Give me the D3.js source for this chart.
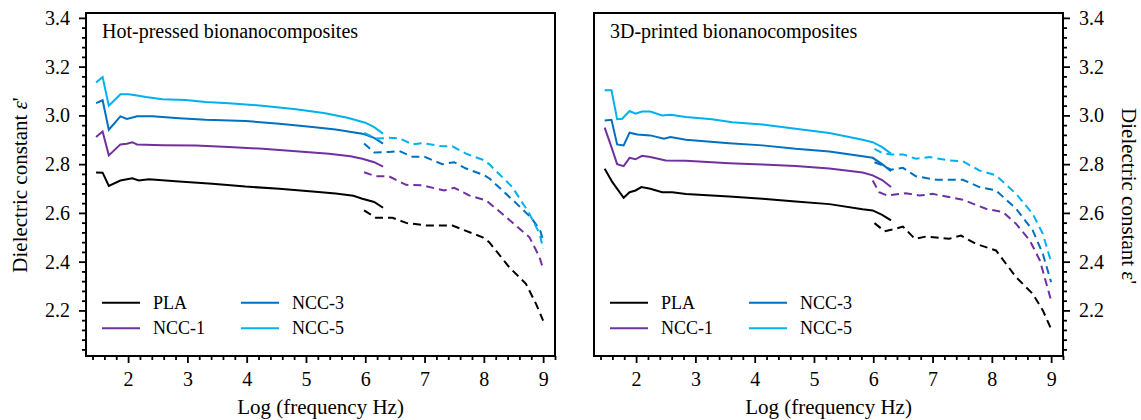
<!DOCTYPE html>
<html>
<head>
<meta charset="utf-8">
<script src="https://cdn.jsdelivr.net/npm/d3@7"></script>
<style>
  body { margin: 0; background: #fff; }
  svg { display: block; font-family: "Liberation Serif", "Times New Roman", serif; }
  svg text { font-family: "Liberation Serif", "Times New Roman", serif; }
</style>
</head>
<body>
<div id="chart"></div>
<script>
// series names + colours
const seriesNames = ['PLA', 'NCC-1', 'NCC-3', 'NCC-5'];
const seriesColors = ['#000000', '#7030a0', '#0070c0', '#00b0f0'];

const xTicks = [2, 3, 4, 5, 6, 7, 8, 9];
const yTicks = [2.2, 2.4, 2.6, 2.8, 3.0, 3.2, 3.4];

// hot-pressed, [log f, eps']
const hotPlaSolid = [[1.46,2.766],[1.57,2.765],[1.675,2.711],[1.87,2.733],[2.07,2.742],[2.18,2.733],[2.35,2.738],[2.86,2.729],[3.42,2.72],[3.98,2.708],[4.55,2.699],[5.11,2.688],[5.5,2.68],[5.8,2.67],[5.95,2.658],[6.15,2.645],[6.3,2.621]];
const hotPlaDashed = [[5.98,2.61],[6.18,2.58],[6.46,2.58],[6.69,2.559],[7.03,2.548],[7.47,2.548],[7.98,2.5],[8.09,2.48],[8.43,2.377],[8.71,2.309],[8.88,2.227],[9.0,2.158]];
const hotNcc1Solid = [[1.46,2.911],[1.57,2.934],[1.675,2.836],[1.87,2.881],[1.98,2.884],[2.07,2.89],[2.15,2.881],[2.58,2.878],[3.14,2.876],[3.7,2.87],[4.27,2.863],[4.83,2.853],[5.39,2.843],[5.75,2.832],[5.95,2.822],[6.15,2.808],[6.3,2.79]];
const hotNcc1Dashed = [[5.98,2.767],[6.18,2.75],[6.4,2.75],[6.69,2.715],[6.96,2.713],[7.33,2.692],[7.5,2.703],[7.76,2.671],[8.04,2.651],[8.38,2.582],[8.77,2.5],[8.94,2.418],[9.0,2.37]];
const hotNcc3Solid = [[1.46,3.05],[1.57,3.062],[1.675,2.941],[1.87,2.996],[1.98,2.985],[2.15,2.996],[2.41,2.996],[2.86,2.988],[3.31,2.982],[3.98,2.977],[4.55,2.966],[5.11,2.952],[5.5,2.942],[5.95,2.925],[6.15,2.908],[6.3,2.884]];
const hotNcc3Dashed = [[5.98,2.885],[6.15,2.848],[6.4,2.85],[6.57,2.854],[6.8,2.83],[7.0,2.83],[7.3,2.8],[7.5,2.808],[7.7,2.782],[8.0,2.755],[8.1,2.74],[8.5,2.65],[8.8,2.58],[8.95,2.528],[9.0,2.487]];
const hotNcc5Solid = [[1.46,3.135],[1.57,3.157],[1.675,3.04],[1.87,3.087],[2.01,3.087],[2.15,3.082],[2.3,3.075],[2.58,3.066],[2.97,3.063],[3.31,3.055],[3.7,3.05],[4.26,3.04],[4.83,3.025],[5.3,3.01],[5.7,2.99],[6.0,2.97],[6.15,2.952],[6.3,2.925]];
const hotNcc5Dashed = [[5.98,2.928],[6.2,2.905],[6.4,2.908],[6.57,2.906],[6.8,2.881],[6.96,2.886],[7.3,2.873],[7.47,2.873],[7.7,2.843],[7.98,2.818],[8.09,2.8],[8.48,2.706],[8.77,2.596],[8.94,2.515],[9.0,2.453]];

// 3D-printed
const prnPlaSolid = [[1.47,2.781],[1.6,2.726],[1.79,2.662],[1.89,2.685],[1.99,2.692],[2.09,2.706],[2.24,2.699],[2.44,2.685],[2.61,2.685],[2.84,2.678],[3.57,2.667],[4.13,2.658],[4.69,2.647],[5.26,2.636],[5.82,2.615],[5.99,2.61],[6.15,2.592],[6.3,2.569]];
const prnPlaDashed = [[6.02,2.558],[6.19,2.525],[6.38,2.535],[6.5,2.544],[6.7,2.494],[6.89,2.503],[7.28,2.494],[7.48,2.507],[7.73,2.473],[8.07,2.446],[8.41,2.336],[8.69,2.268],[8.86,2.2],[9.0,2.124]];
const prnNcc1Solid = [[1.47,2.95],[1.585,2.87],[1.68,2.8],[1.79,2.792],[1.89,2.826],[1.99,2.82],[2.1,2.834],[2.24,2.829],[2.5,2.815],[2.84,2.814],[3.57,2.804],[4.13,2.799],[4.69,2.792],[5.26,2.782],[5.82,2.766],[5.99,2.754],[6.15,2.735],[6.3,2.706]];
const prnNcc1Dashed = [[5.99,2.733],[6.1,2.685],[6.24,2.671],[6.55,2.681],[6.78,2.671],[7.0,2.678],[7.23,2.667],[7.51,2.654],[7.9,2.617],[8.19,2.603],[8.41,2.555],[8.64,2.487],[8.81,2.405],[9.0,2.24]];
const prnNcc3Solid = [[1.47,2.979],[1.585,2.982],[1.68,2.881],[1.79,2.877],[1.89,2.929],[2.02,2.922],[2.24,2.918],[2.47,2.904],[2.58,2.911],[2.84,2.9],[3.57,2.886],[4.13,2.877],[4.69,2.863],[5.26,2.852],[5.82,2.832],[5.99,2.826],[6.15,2.8],[6.3,2.771]];
const prnNcc3Dashed = [[6.02,2.808],[6.16,2.795],[6.3,2.777],[6.5,2.785],[6.72,2.75],[7.06,2.736],[7.51,2.736],[7.79,2.706],[8.07,2.692],[8.41,2.617],[8.69,2.528],[8.86,2.432],[9.0,2.316]];
const prnNcc5Solid = [[1.47,3.103],[1.585,3.103],[1.68,2.984],[1.765,2.986],[1.89,3.018],[1.99,3.007],[2.1,3.016],[2.24,3.016],[2.44,3.0],[2.58,3.003],[2.84,2.993],[3.28,2.984],[3.62,2.972],[4.13,2.963],[4.69,2.945],[5.26,2.928],[5.82,2.9],[5.99,2.89],[6.15,2.87],[6.3,2.843]];
const prnNcc5Dashed = [[6.02,2.863],[6.16,2.845],[6.3,2.84],[6.5,2.84],[6.72,2.822],[6.95,2.829],[7.28,2.815],[7.51,2.812],[7.79,2.774],[8.07,2.754],[8.41,2.678],[8.69,2.596],[8.86,2.514],[9.0,2.398]];

const panels = [
  {
    title: 'Hot-pressed bionanocomposites', left: 86, yAxisSide: 'left',
    solid: [hotPlaSolid, hotNcc1Solid, hotNcc3Solid, hotNcc5Solid],
    dashed: [hotPlaDashed, hotNcc1Dashed, hotNcc3Dashed, hotNcc5Dashed]
  },
  {
    title: '3D-printed bionanocomposites', left: 594, yAxisSide: 'right',
    solid: [prnPlaSolid, prnNcc1Solid, prnNcc3Solid, prnNcc5Solid],
    dashed: [prnPlaDashed, prnNcc1Dashed, prnNcc3Dashed, prnNcc5Dashed]
  }
];

const width = 1141, height = 420;
const plotW = 469, plotTop = 13, plotBottom = 356;
const serif = '"Liberation Serif", "Times New Roman", serif';

const svg = d3.select('#chart').append('svg')
  .attr('width', width)
  .attr('height', height);

const y = d3.scaleLinear().domain([2.013, 3.42]).range([plotBottom, plotTop]);

// minor ticks
const xMinor = d3.range(14, 93, 2).map(d => d / 10).filter(d => Math.abs(d - Math.round(d)) > 0.01);
const yMinor = d3.range(51, 86).map(d => d * 0.04).filter(d => Math.abs(d * 5 - Math.round(d * 5)) > 0.01);

panels.forEach(function (p) {
  const x = d3.scaleLinear().domain([1.29, 9.2]).range([p.left, p.left + plotW]);
  const g = svg.append('g');

  const line = d3.line()
    .x(d => x(d[0]))
    .y(d => y(d[1]));

  // x axis
  g.append('g')
    .attr('transform', `translate(0,${plotBottom})`)
    .call(d3.axisBottom(x).tickValues(xTicks).tickSize(7).tickPadding(9).tickFormat(d3.format('d')));
  g.append('g')
    .attr('transform', `translate(0,${plotBottom})`)
    .call(d3.axisBottom(x).tickValues(xMinor).tickSize(4).tickFormat(''));

  // y axis, on the left or on the right
  const yX = p.yAxisSide === 'left' ? p.left : p.left + plotW;
  const yAxisFn = p.yAxisSide === 'left' ? d3.axisLeft : d3.axisRight;
  g.append('g')
    .attr('transform', `translate(${yX},0)`)
    .call(yAxisFn(y).tickValues(yTicks).tickSize(7).tickPadding(9).tickFormat(d3.format('.1f')));
  g.append('g')
    .attr('transform', `translate(${yX},0)`)
    .call(yAxisFn(y).tickValues(yMinor).tickSize(4).tickFormat(''));

  g.selectAll('.domain').remove();
  g.selectAll('g').attr('font-family', serif).attr('font-size', 20);
  g.selectAll('.tick line').attr('stroke', '#000').attr('stroke-width', 1.8);
  g.selectAll('.tick text').attr('fill', '#000');

  // lines
  p.solid.forEach(function (s, i) {
    g.append('path')
      .attr('d', line(s))
      .attr('fill', 'none')
      .attr('stroke', seriesColors[i])
      .attr('stroke-width', 2);
  });
  p.dashed.forEach(function (s, i) {
    g.append('path')
      .attr('d', line(s))
      .attr('fill', 'none')
      .attr('stroke', seriesColors[i])
      .attr('stroke-width', 2)
      .attr('stroke-dasharray', '8,5');
  });

  // frame
  g.append('rect')
    .attr('x', p.left)
    .attr('y', plotTop)
    .attr('width', plotW)
    .attr('height', plotBottom - plotTop)
    .attr('fill', 'none')
    .attr('stroke', '#000')
    .attr('stroke-width', 2);

  g.append('text')
    .attr('x', p.left + 16)
    .attr('y', 38)
    .attr('font-size', 20)
    .text(p.title);

  // legend, two columns
  const legend = g.selectAll('.legend')
    .data(seriesNames)
    .enter()
    .append('g')
    .attr('class', 'legend')
    .attr('transform', function (d, i) {
      const col = Math.floor(i / 2), row = i % 2;
      return `translate(${p.left + 16 + col * 139},${302.7 + row * 25.6})`;
    });
  legend.append('line')
    .attr('x1', 0).attr('x2', 38)
    .attr('stroke', (d, i) => seriesColors[i])
    .attr('stroke-width', 2);
  legend.append('text')
    .attr('x', 51)
    .attr('y', 6)
    .attr('font-size', 18)
    .text(d => d);

  g.append('text')
    .attr('x', p.left + plotW / 2)
    .attr('y', 414)
    .attr('text-anchor', 'middle')
    .attr('font-size', 21)
    .text('Log (frequency Hz)');
});

// y labels
const leftLabel = svg.append('text')
  .attr('transform', 'translate(27,185) rotate(-90)')
  .attr('text-anchor', 'middle')
  .attr('font-size', 21);
leftLabel.append('tspan').text('Dielectric constant ');
leftLabel.append('tspan').attr('font-style', 'italic').text('ε');
leftLabel.append('tspan').text("'");

svg.append('text')
  .attr('transform', 'translate(1122,196) rotate(90)')
  .attr('text-anchor', 'middle')
  .attr('font-size', 21)
  .text("Dielectric constant ε'");
</script>
</body>
</html>
